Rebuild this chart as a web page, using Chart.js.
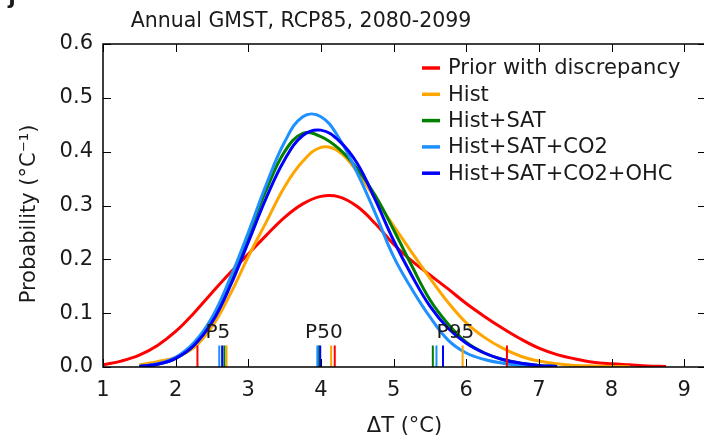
<!DOCTYPE html>
<html>
<head>
<meta charset="utf-8">
<script src="https://cdn.jsdelivr.net/npm/chart.js@4/dist/chart.umd.min.js"></script>
<style>
  html, body { margin: 0; padding: 0; background: #fff; overflow: hidden; }
</style>
</head>
<body>
<canvas id="grafico" width="712" height="440"></canvas>
<script>
(function (win, doc) {
  'use strict';

  // grid of temperature change values (°C)
  const xVals = [1.0, 1.25, 1.5, 1.75, 2.0, 2.25, 2.5, 2.75, 3.0, 3.25, 3.5, 3.75, 4.0, 4.25, 4.5, 4.75,
                 5.0, 5.25, 5.5, 5.75, 6.0, 6.25, 6.5, 6.75, 7.0, 7.25, 7.5, 7.75, 8.0, 8.25, 8.5, 8.75];

  const prior = [0.004, 0.011, 0.022, 0.04, 0.066, 0.1, 0.138, 0.175, 0.21, 0.245, 0.278, 0.303, 0.317, 0.316, 0.298, 0.266,
                 0.228, 0.197, 0.171, 0.145, 0.118, 0.094, 0.072, 0.052, 0.035, 0.023, 0.015, 0.009, 0.006, 0.004, 0.002, 0.001];
  const hist = [null, null, 0.004, 0.01, 0.018, 0.036, 0.075, 0.135, 0.205, 0.27, 0.335, 0.382, 0.408, 0.4, 0.362, 0.312,
                0.262, 0.213, 0.165, 0.12, 0.082, 0.055, 0.035, 0.02, 0.011, 0.006, 0.003, 0.002, 0.001, 0.0005, null, null];
  const histSat = [null, null, 0.001, 0.005, 0.016, 0.04, 0.086, 0.158, 0.245, 0.33, 0.4, 0.434, 0.428, 0.405, 0.368, 0.318,
                   0.255, 0.188, 0.125, 0.08, 0.046, 0.026, 0.014, 0.007, 0.003, 0.001, null, null, null, null, null, null];
  const histSatCo2 = [null, null, 0.001, 0.006, 0.018, 0.045, 0.092, 0.165, 0.25, 0.34, 0.418, 0.465, 0.465, 0.425, 0.36, 0.285,
                      0.205, 0.145, 0.093, 0.05, 0.026, 0.014, 0.007, 0.003, 0.001, null, null, null, null, null, null, null];
  const histSatCo2Ohc = [null, null, 0.001, 0.005, 0.016, 0.04, 0.083, 0.15, 0.232, 0.315, 0.385, 0.43, 0.44, 0.42, 0.378, 0.31,
                         0.235, 0.17, 0.113, 0.072, 0.044, 0.026, 0.014, 0.007, 0.003, 0.001, null, null, null, null, null, null];

  const nomes = ['Prior with discrepancy', 'Hist', 'Hist+SAT', 'Hist+SAT+CO2', 'Hist+SAT+CO2+OHC'];
  const cores = ['#ff0000', '#ffa500', '#008000', '#1e90ff', '#0000ff'];
  const series = [prior, hist, histSat, histSatCo2, histSatCo2Ohc];

  // percentiles, same order as the series
  const p5 = [2.30, 2.70, 2.67, 2.60, 2.64];
  const p50 = [4.19, 4.14, 3.97, 3.95, 3.99];
  const p95 = [6.56, 5.95, 5.54, 5.59, 5.68];
  const pctTexto = ['P5', 'P50', 'P95'];
  const pctTextoX = [2.58, 4.04, 5.85];

  const xTicks = [1, 2, 3, 4, 5, 6, 7, 8, 9];
  const yTicks = [0, 0.1, 0.2, 0.3, 0.4, 0.5, 0.6];

  const FONTE = "'DejaVu Sans', sans-serif";
  const TEXTO = '#1a1a1a';

  function pontos(vals) {
    let out = [];
    vals.forEach(function (v, i) {
      if (v !== null) out.push({ x: xVals[i], y: v });
    });
    return out;
  }

  const datasets = series.map(function (vals, i) {
    return {
      label: nomes[i],
      data: pontos(vals),
      borderColor: cores[i],
      backgroundColor: cores[i],
      borderWidth: 3,
      pointRadius: 0,
      tension: 0.4,
      fill: false,
      order: series.length - i
    };
  });

  // percentile marks, P labels, frame with inward ticks, legend and title
  const extras = {
    id: 'extras',
    afterDatasetsDraw(chart) {
      const ctx = chart.ctx;
      const x = chart.scales.x, y = chart.scales.y;
      ctx.save();
      ctx.lineWidth = 2;
      [p5, p50, p95].forEach(function (grupo) {
        grupo.forEach(function (v, i) {
          ctx.strokeStyle = cores[i];
          ctx.beginPath();
          ctx.moveTo(x.getPixelForValue(v), y.getPixelForValue(0));
          ctx.lineTo(x.getPixelForValue(v), y.getPixelForValue(0.04));
          ctx.stroke();
        });
      });
      ctx.fillStyle = TEXTO;
      ctx.font = '20px ' + FONTE;
      ctx.textAlign = 'center';
      ctx.textBaseline = 'middle';
      pctTexto.forEach(function (t, i) {
        ctx.fillText(t, x.getPixelForValue(pctTextoX[i]), y.getPixelForValue(0.064));
      });
      ctx.restore();
    },
    afterDraw(chart) {
      const ctx = chart.ctx;
      const a = chart.chartArea;
      const x = chart.scales.x, y = chart.scales.y;
      ctx.save();
      ctx.strokeStyle = '#000';
      ctx.lineWidth = 1;
      xTicks.forEach(function (v) {
        const px = Math.round(x.getPixelForValue(v)) + 0.5;
        ctx.beginPath();
        ctx.moveTo(px, a.bottom); ctx.lineTo(px, a.bottom - 8);
        ctx.moveTo(px, a.top); ctx.lineTo(px, a.top + 8);
        ctx.stroke();
      });
      yTicks.forEach(function (v) {
        const py = Math.round(y.getPixelForValue(v)) + 0.5;
        ctx.beginPath();
        ctx.moveTo(a.left, py); ctx.lineTo(a.left + 8, py);
        ctx.moveTo(a.right, py); ctx.lineTo(a.right - 8, py);
        ctx.stroke();
      });
      ctx.lineWidth = 1.5;
      ctx.strokeRect(a.left, a.top, a.right - a.left, a.bottom - a.top);

      // legend
      ctx.font = '21px ' + FONTE;
      ctx.textAlign = 'left';
      ctx.textBaseline = 'middle';
      nomes.forEach(function (n, i) {
        const ly = 68 + i * 26.3;
        ctx.strokeStyle = cores[i];
        ctx.lineWidth = 3.5;
        ctx.beginPath();
        ctx.moveTo(422, ly); ctx.lineTo(440, ly);
        ctx.stroke();
        ctx.fillStyle = TEXTO;
        ctx.fillText(n, 448, ly + 1);
      });

      // title
      ctx.font = '20.5px ' + FONTE;
      ctx.textAlign = 'center';
      ctx.fillText('Annual GMST, RCP85, 2080-2099', 301, 22);

      // y axis label
      ctx.save();
      ctx.translate(30, 214);
      ctx.rotate(-Math.PI / 2);
      ctx.font = '21px ' + FONTE;
      ctx.fillText('Probability (°C⁻¹)', 0, 0);
      ctx.restore();

      // cropped panel letter
      ctx.font = 'bold 22px ' + FONTE;
      ctx.textAlign = 'center';
      ctx.textBaseline = 'alphabetic';
      ctx.fillText('j', 12, 4);
      ctx.restore();
    }
  };

  let grafico = new Chart(doc.getElementById('grafico'), {
    type: 'line',
    data: { datasets: datasets },
    plugins: [extras],
    options: {
      responsive: false,
      animation: false,
      devicePixelRatio: 1,
      layout: { padding: { top: 44, right: 6, left: 0, bottom: 0 } },
      plugins: { legend: { display: false }, tooltip: { enabled: false } },
      scales: {
        x: {
          type: 'linear',
          min: 1,
          max: 9.3,
          afterBuildTicks: function (s) {
            s.ticks = xTicks.map(function (v) { return { value: v }; });
          },
          afterFit: function (s) { s.height = 73; },
          grid: { display: false, drawTicks: false },
          border: { display: false },
          ticks: { color: TEXTO, padding: 11, font: { family: FONTE, size: 21 }, maxRotation: 0 },
          title: { display: true, text: 'ΔT (°C)', color: TEXTO, font: { family: FONTE, size: 21 },
                   padding: { top: 0, bottom: 1 } }
        },
        y: {
          min: 0,
          max: 0.6,
          afterBuildTicks: function (s) {
            s.ticks = yTicks.map(function (v) { return { value: v }; });
          },
          afterFit: function (s) { s.width = 103; },
          grid: { display: false, drawTicks: false },
          border: { display: false },
          ticks: {
            color: TEXTO, padding: 10, font: { family: FONTE, size: 21 },
            callback: function (v) { return Number(v).toFixed(1); }
          },
          title: { display: false }
        }
      }
    }
  });
})(window, document);
</script>
</body>
</html>
